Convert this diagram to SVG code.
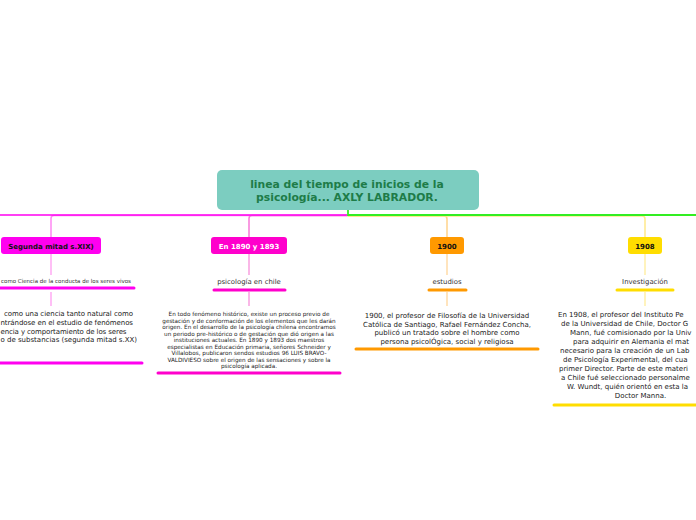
<svg xmlns="http://www.w3.org/2000/svg" width="696" height="520" viewBox="0 0 696 520">
<style>
text{font-family:"DejaVu Sans","Verdana",sans-serif;}
.title{font-size:10.8px;font-weight:bold;fill:#1e7c48;text-anchor:middle;}
.box{font-size:7px;font-weight:bold;text-anchor:middle;}
.sub{font-size:6.9px;fill:#333;text-anchor:middle;}
.p{font-size:7px;fill:#222;}
.ps{font-size:5.7px;fill:#222;text-anchor:middle;}
.ul{stroke-width:3;stroke-linecap:round;fill:none;}
.br{fill:none;stroke-width:1.5;}
</style>
<rect width="696" height="520" fill="#fff"/>
<g id="connectors">
<path class="br" d="M348 215.5 H54 Q51 215.5 51 218.5 V237" stroke="#ff88f4"/>
<path class="br" d="M348 215.5 H252 Q249 215.5 249 218.5 V237" stroke="#f87ad8"/>
<path class="br" d="M348 216 H444 Q447 216 447 219 V237" stroke="#ffd38a"/>
<path class="br" d="M348 216 H642 Q645 216 645 219 V237" stroke="#ffe98a"/>
<path d="M0 215 H347" stroke="#ff00f0" stroke-width="1.4" fill="none"/>
<path d="M348 210 V215 H696" stroke="#33ee22" stroke-width="1.8" fill="none"/>
<path class="br" d="M51 254 V275 M51 292 V306" stroke="#ffaaf4"/>
<path class="br" d="M249 254 V275 M249 292 V306" stroke="#f9a0e0"/>
<path class="br" d="M447 254 V275 M447 292 V306" stroke="#ffdca8"/>
<path class="br" d="M645 254 V275 M645 292 V306" stroke="#fff0a8"/>
</g>
<g id="central">
<rect x="217" y="170" width="262" height="40" rx="5" fill="#7ccdc0"/>
<text class="title" x="347" y="188">linea del tiempo de inicios de la</text>
<text class="title" x="347" y="201">psicología... AXLY LABRADOR.</text>
</g>
<g id="n-segunda">
<rect x="1" y="237" width="100" height="17" rx="3" fill="#ff00f0"/>
<text class="box" x="51" y="248.5" fill="#111">Segunda mitad s.XIX)</text>
</g>
<g id="n-segunda-sub">
<text x="1" y="283" style="font-size:5.5px;fill:#333;">como Ciencia de la conducta de los seres vivos</text>
<line class="ul" x1="0" y1="288" x2="134" y2="288" stroke="#ff00f0"/>
</g>
<g id="n-segunda-text">
<text class="p" x="4" y="316" textLength="129">como una ciencia tanto natural como</text>
<text class="p" x="0.5" y="325" textLength="132.5">ntrándose en el estudio de fenómenos</text>
<text class="p" x="0.5" y="333.5" textLength="126">encia y comportamiento de los seres</text>
<text class="p" x="0.5" y="342" textLength="136.5">o de substancias (segunda mitad s.XX)</text>
<line class="ul" x1="0" y1="363" x2="142" y2="363" stroke="#ff00f0"/>
</g>
<g id="n-1890">
<rect x="211" y="237" width="76" height="17" rx="3" fill="#ff00cc"/>
<text class="box" x="249" y="248.5" fill="#fff">En 1890 y 1893</text>
</g>
<g id="n-1890-sub">
<text class="sub" x="249" y="284">psicología en chile</text>
<line class="ul" x1="214" y1="290" x2="285" y2="290" stroke="#ff00cc"/>
</g>
<g id="n-1890-text">
<text class="ps" x="249" y="316">En todo fenómeno histórico, existe un proceso previo de</text>
<text class="ps" x="249" y="322.5">gestación y de conformación de los elementos que les darán</text>
<text class="ps" x="249" y="329">origen. En el desarrollo de la psicología chilena encontramos</text>
<text class="ps" x="249" y="335.5">un periodo pre-histórico o de gestación que dió origen a las</text>
<text class="ps" x="249" y="342">instituciones actuales. En 1890 y 1893 dos maestros</text>
<text class="ps" x="249" y="348.5">especialistas en Educación primaria, señores Schneider y</text>
<text class="ps" x="249" y="355">Villalobos, publicaron sendos estudios 96 LUIS BRAVO-</text>
<text class="ps" x="249" y="361.5">VALDIVIESO sobre el origen de las sensaciones y sobre la</text>
<text class="ps" x="249" y="368">psicología aplicada.</text>
<line class="ul" x1="158" y1="373" x2="340" y2="373" stroke="#ff00cc"/>
</g>
<g id="n-1900">
<rect x="430" y="237" width="34" height="17" rx="3" fill="#ff9900"/>
<text class="box" x="447" y="248.5" fill="#111">1900</text>
</g>
<g id="n-1900-sub">
<text class="sub" x="447" y="284">estudios</text>
<line class="ul" x1="429" y1="290" x2="466" y2="290" stroke="#ff9900"/>
</g>
<g id="n-1900-text">
<text class="p" x="447" y="318" text-anchor="middle">1900, el profesor de Filosofía de la Universidad</text>
<text class="p" x="447" y="326.5" text-anchor="middle">Católica de Santiago, Rafael Fernández Concha,</text>
<text class="p" x="447" y="335" text-anchor="middle">publicó un tratado sobre el hombre como</text>
<text class="p" x="447" y="343.5" text-anchor="middle">persona psicolÓgica, social y religiosa</text>
<line class="ul" x1="356" y1="349" x2="538" y2="349" stroke="#ff9900"/>
</g>
<g id="n-1908">
<rect x="628" y="237" width="34" height="17" rx="3" fill="#ffdd00"/>
<text class="box" x="645" y="248.5" fill="#111">1908</text>
</g>
<g id="n-1908-sub">
<text class="sub" x="645" y="284">Investigación</text>
<line class="ul" x1="617" y1="290" x2="673" y2="290" stroke="#ffdd00"/>
</g>
<g id="n-1908-text">
<text class="p" x="558" y="317">En 1908, el profesor del Instituto Pe</text>
<text class="p" x="561" y="326">de la Universidad de Chile, Doctor G</text>
<text class="p" x="570" y="335">Mann, fué comisionado por la Univ</text>
<text class="p" x="573" y="344">para adquirir en Alemania el mat</text>
<text class="p" x="560" y="353">necesario para la creación de un Lab</text>
<text class="p" x="563" y="362">de Psicología Experimental, del cua</text>
<text class="p" x="559" y="371">primer Director. Parte de este materi</text>
<text class="p" x="561" y="380">a Chile fué seleccionado personalme</text>
<text class="p" x="567" y="389">W. Wundt, quién orientó en esta la</text>
<text class="p" x="640.5" y="398" text-anchor="middle">Doctor Manna.</text>
<line class="ul" x1="554" y1="405" x2="697" y2="405" stroke="#ffdd00"/>
</g>
</svg>
